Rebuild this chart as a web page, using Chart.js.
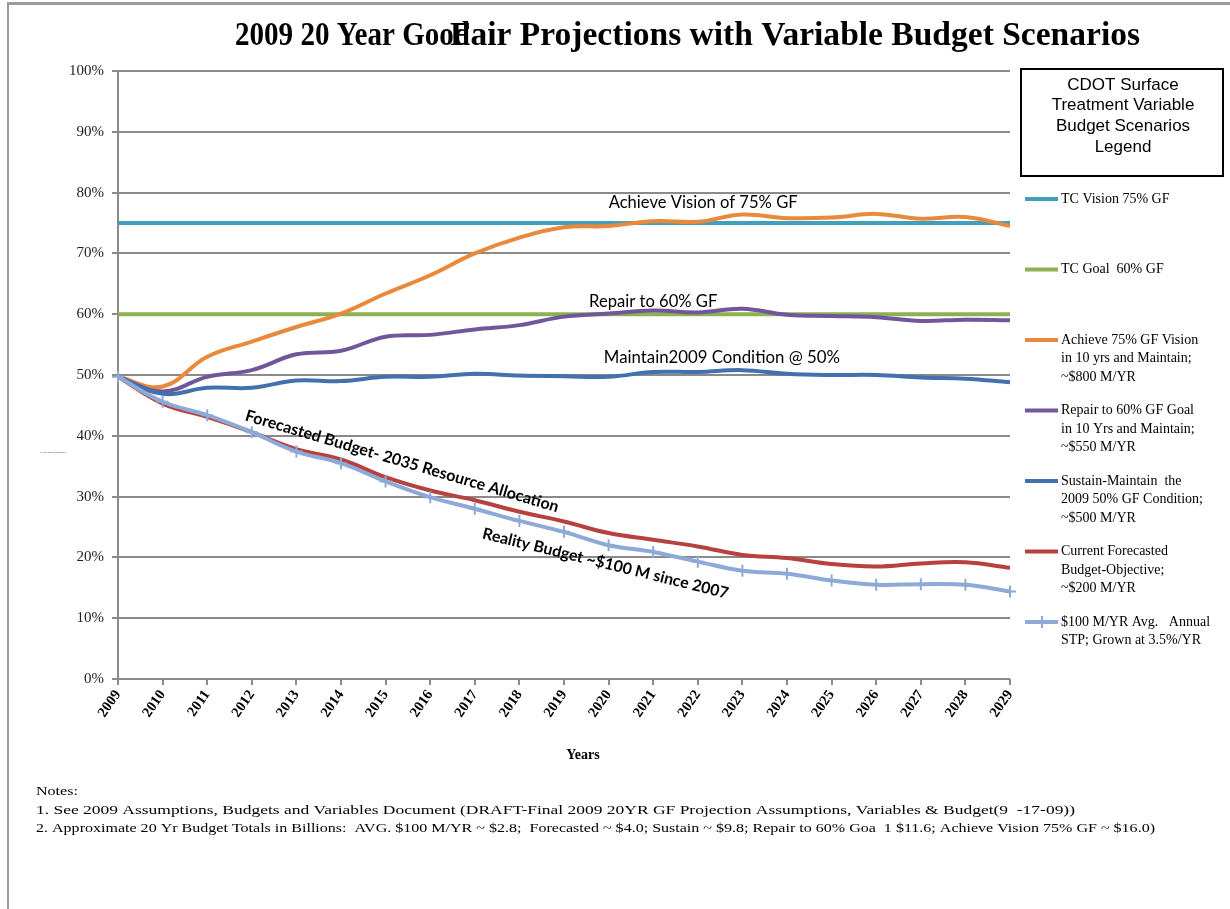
<!DOCTYPE html>
<html><head><meta charset="utf-8">
<script src="https://cdn.jsdelivr.net/npm/chart.js@4.4.0/dist/chart.umd.min.js"></script>
<style>html,body{margin:0;padding:0;background:#fff;overflow:hidden}#wrap{position:relative;width:1230px;height:909px}</style>
</head><body><div id="wrap"><canvas id="c" width="1230" height="909"></canvas></div>
<script>
// ---------- DATA ----------
const years = ['2009','2010','2011','2012','2013','2014','2015','2016','2017','2018','2019','2020','2021','2022','2023','2024','2025','2026','2027','2028','2029'];
const yTickValues = [0,10,20,30,40,50,60,70,80,90,100];
const tcVision = [75,75,75,75,75,75,75,75,75,75,75,75,75,75,75,75,75,75,75,75,75];
const tcGoal   = [60,60,60,60,60,60,60,60,60,60,60,60,60,60,60,60,60,60,60,60,60];
const achieve  = [49.7,48.1,53.0,55.5,57.9,60.1,63.4,66.4,70.0,72.6,74.3,74.5,75.3,75.2,76.4,75.8,75.9,76.5,75.7,76.0,74.5];
const repair   = [49.7,47.3,49.7,50.8,53.4,54.0,56.3,56.6,57.5,58.2,59.6,60.1,60.6,60.3,60.9,59.9,59.7,59.5,58.9,59.1,59.0];
const sustain  = [49.7,46.9,47.9,47.9,49.1,49.0,49.7,49.7,50.2,49.9,49.8,49.7,50.5,50.5,50.8,50.2,50.0,50.0,49.6,49.4,48.8];
const forecast = [49.7,45.3,43.1,40.6,37.8,36.1,33.2,31.0,29.4,27.5,25.9,24.0,22.9,21.8,20.4,19.9,18.9,18.5,19.0,19.2,18.3];
const reality  = [49.7,45.6,43.4,40.6,37.4,35.5,32.5,29.9,28.0,26.0,24.2,22.0,20.9,19.3,17.8,17.3,16.2,15.5,15.6,15.5,14.4];

const seriesLabels = [
  ['TC Vision 75% GF'],
  ['TC Goal  60% GF'],
  ['Achieve 75% GF Vision','in 10 yrs and Maintain;','~$800 M/YR'],
  ['Repair to 60% GF Goal','in 10 Yrs and Maintain;','~$550 M/YR'],
  ['Sustain-Maintain  the','2009 50% GF Condition;','~$500 M/YR'],
  ['Current Forecasted','Budget-Objective;','~$200 M/YR'],
  ['$100 M/YR Avg.   Annual','STP; Grown at 3.5%/YR']
];
const seriesColors = ['#43A0BC','#8DB152','#E8893C','#70569B','#4271AE','#B5423F','#8DA9D8'];
const seriesData = [tcVision, tcGoal, achieve, repair, sustain, forecast, reality];

const titleLeft = '2009 20 Year Good';
const titleRight = 'Fair Projections with Variable Budget Scenarios';
const legendTitle = ['CDOT Surface','Treatment Variable','Budget Scenarios','Legend'];
const xAxisTitle = 'Years';
const yAxisTinyTitle = '% Good/Fair Condition';
const notes = [
  'Notes:',
  '1. See 2009 Assumptions, Budgets and Variables Document (DRAFT-Final 2009 20YR GF Projection Assumptions, Variables & Budget(9  -17-09))',
  '2. Approximate 20 Yr Budget Totals in Billions:  AVG. $100 M/YR ~ $2.8;  Forecasted ~ $4.0; Sustain ~ $9.8; Repair to 60% Goa  1 $11.6; Achieve Vision 75% GF ~ $16.0)'
];
// annotations: [text, x index, y value, angle deg, bold, size]
const annotations = [
  ['Achieve Vision of 75% GF', 13.12, 78.3, 0, false, 16.6],
  ['Repair to 60% GF', 12.0, 62.0, 0, false, 16.6],
  ['Maintain2009 Condition @ 50%', 13.54, 52.8, 0, false, 16.8],
  ['Forecasted Budget- 2035 Resource Allocation', 6.37, 35.8, 16.4, true, 16],
  ['Reality Budget ~$100 M since 2007', 10.93, 19.0, 13.8, true, 15.9]
];

// ---------- CHART ----------
const SERIF = '"Liberation Serif","Times New Roman",serif';
const SANS = '"Liberation Sans",Arial,sans-serif';
const CAL = 'Lato,"Open Sans",sans-serif';
const GRID = '#8a8a8a';

const datasets = seriesData.map((d, i) => ({
  label: seriesLabels[i].join(' '),
  data: d,
  borderColor: seriesColors[i],
  backgroundColor: seriesColors[i],
  borderWidth: 4,
  tension: (i < 2) ? 0 : 0.4,
  pointRadius: i === 6 ? 6 : 0,
  pointStyle: 'cross',
  pointBorderWidth: 2,
  pointBorderColor: seriesColors[i],
  pointHoverRadius: 0,
  fill: false,
  order: 10 - i
}));

const overlay = {
  id: 'overlay',
  beforeDraw(chart) {
    const ctx = chart.ctx;
    ctx.save();
    ctx.fillStyle = '#fff';
    ctx.fillRect(0, 0, chart.width, chart.height);
    ctx.fillStyle = '#9a9a9a';
    ctx.fillRect(8, 2, chart.width - 8, 3);
    ctx.fillRect(7, 2, 2, chart.height);
    ctx.restore();
  },
  afterDraw(chart) {
    const ctx = chart.ctx;
    const xs = chart.scales.x, ys = chart.scales.y;
    ctx.save();
    // title
    ctx.fillStyle = '#000';
    ctx.font = 'bold 33px ' + SERIF;
    ctx.textBaseline = 'alphabetic';
    const wR = ctx.measureText(titleRight).width;
    const wL = ctx.measureText(titleLeft).width;
    const sR = 690 / wR, sL = 235 / wL;
    ctx.save(); ctx.translate(1140, 45); ctx.scale(sR, 1); ctx.textAlign = 'right'; ctx.fillText(titleRight, 0, 0); ctx.restore();
    ctx.save(); ctx.translate(235, 45); ctx.scale(sL, 1); ctx.textAlign = 'left'; ctx.fillText(titleLeft, 0, 0); ctx.restore();

    // legend box
    ctx.lineWidth = 2; ctx.strokeStyle = '#000';
    ctx.strokeRect(1021, 69, 202, 107);
    ctx.font = '17px ' + SANS; ctx.textAlign = 'center'; ctx.textBaseline = 'middle';
    legendTitle.forEach((t, i) => ctx.fillText(t, 1123, 85 + i * 20.7));

    // legend entries
    ctx.font = '14px ' + SERIF; ctx.textAlign = 'left';
    seriesLabels.forEach((lines, i) => {
      const y0 = 199 + i * 70.5;
      ctx.strokeStyle = seriesColors[i]; ctx.lineWidth = 4;
      ctx.beginPath(); ctx.moveTo(1025, y0); ctx.lineTo(1058, y0); ctx.stroke();
      if (i === 6) {
        ctx.lineWidth = 2; ctx.beginPath(); ctx.moveTo(1042, y0 - 6); ctx.lineTo(1042, y0 + 6); ctx.stroke();
      }
      ctx.fillStyle = '#000';
      lines.forEach((t, j) => ctx.fillText(t, 1061, y0 + j * 18.6));
    });

    // annotations
    annotations.forEach(a => {
      const px = xs.getPixelForValue(a[1]);
      const py = ys.getPixelForValue(a[2]);
      ctx.save();
      ctx.translate(px, py);
      ctx.rotate(a[3] * Math.PI / 180);
      ctx.font = (a[4] ? 'bold ' : '') + a[5] + 'px ' + CAL;
      ctx.textAlign = 'center'; ctx.textBaseline = 'middle';
      ctx.fillStyle = '#000';
      ctx.fillText(a[0], 0, 0);
      ctx.restore();
    });

    // x axis title
    ctx.font = 'bold 14px ' + SERIF; ctx.textAlign = 'center'; ctx.textBaseline = 'middle';
    ctx.fillText(xAxisTitle, 583, 755);
    // tiny y title
    ctx.font = '2.5px ' + SANS; ctx.textAlign = 'left';
    ctx.fillStyle = '#444';
    ctx.fillText(yAxisTinyTitle, 40, 452);

    // notes
    ctx.fillStyle = '#000';
    ctx.font = '13.5px ' + SERIF; ctx.textAlign = 'left'; ctx.textBaseline = 'alphabetic';
    const base = 1119 / ctx.measureText(notes[2]).width;
    const noteScales = [base, 1039 / ctx.measureText(notes[1]).width, base];
    notes.forEach((t, i) => {
      ctx.save(); ctx.translate(36, 795 + i * 18.7); ctx.scale(noteScales[i], 1); ctx.fillText(t, 0, 0); ctx.restore();
    });
    ctx.restore();
  }
};

new Chart(document.getElementById('c'), {
  type: 'line',
  data: { labels: years, datasets },
  options: {
    responsive: false,
    animation: false,
    events: [],
    layout: { padding: { left: 0, top: 71, right: 220, bottom: 130 } },
    plugins: { legend: { display: false }, title: { display: false }, tooltip: { enabled: false } },
    scales: {
      x: {
        type: 'category',
        offset: false,
        grid: { display: true, drawOnChartArea: false, drawTicks: true, tickLength: 6, color: GRID, lineWidth: 2 },
        border: { display: false },
        ticks: { autoSkip: false, maxRotation: 55, minRotation: 55, padding: 2, color: '#000', font: { family: SERIF, size: 14.5, weight: 'bold' } },
        afterFit(scale) { scale.height = 100; }
      },
      y: {
        min: 0, max: 100,
        afterBuildTicks(scale) { scale.ticks = yTickValues.map(v => ({ value: v })); },
        grid: { color: GRID, lineWidth: 2, tickLength: 6 },
        border: { display: true, color: GRID, width: 2 },
        ticks: { padding: 8, color: '#222', font: { family: SERIF, size: 15 }, callback: v => v + '%' },
        afterFit(scale) { scale.width = 118; }
      }
    }
  },
  plugins: [overlay]
});
</script>
</body></html>
